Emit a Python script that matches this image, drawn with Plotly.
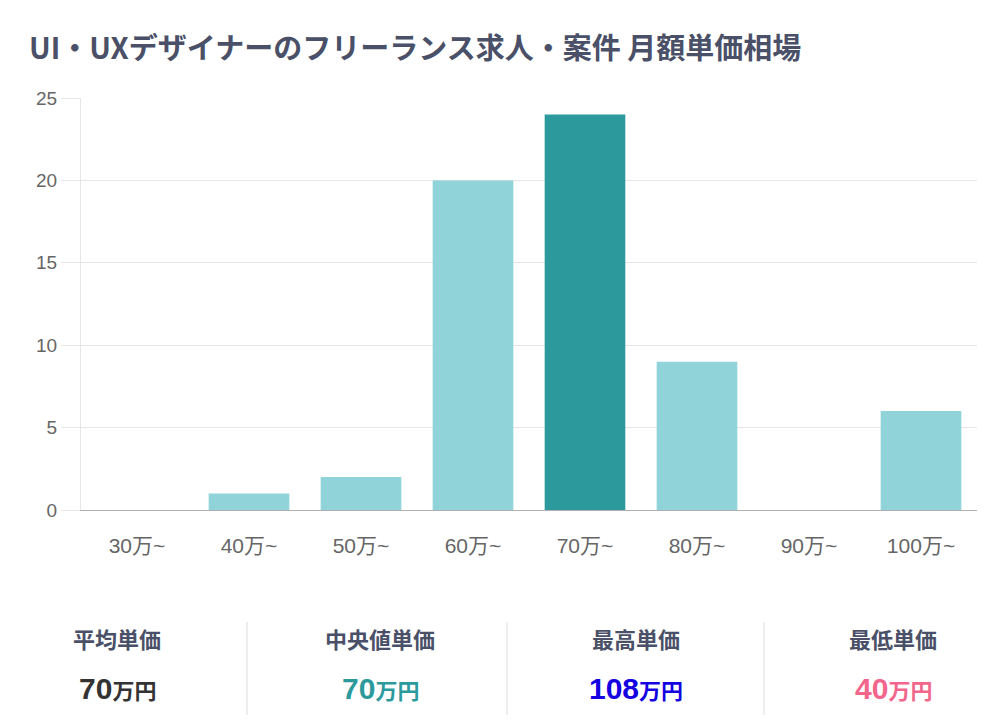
import plotly.graph_objects as go

categories = ["30万~", "40万~", "50万~", "60万~", "70万~", "80万~", "90万~", "100万~"]
counts = [0, 1, 2, 20, 24, 9, 0, 6]

stat_labels = ["平均単価", "中央値単価", "最高単価", "最低単価"]
stat_values = ["70", "70", "108", "40"]
stat_colors = ["#333333", "#2c9a9c", "#1400e0", "#f2668b"]

title = "UI・UXデザイナーのフリーランス求人・案件 月額単価相場"

# the page body has an 8px margin, so the figure is 16px smaller than the window
OFF = 8
W, H = 1008 - 2 * OFF, 728 - 2 * OFF
LIGHT, DARK = "#90d4d9", "#2c9a9c"
peak = max(counts)
bar_colors = [DARK if v == peak else LIGHT for v in counts]


def px(x):
    return (x - OFF) / W


def py(y):
    return 1 - (y - OFF) / H


fig = go.Figure(go.Bar(x=categories, y=counts, marker=dict(color=bar_colors, line=dict(width=0)),
                       hoverinfo="x+y"))

cjk = "Noto Sans CJK JP, Liberation Sans, sans-serif"
num_font = "Liberation Sans, Arial, sans-serif"

fig.update_layout(
    width=W, height=H,
    autosize=False,
    margin=dict(l=0, r=0, t=0, b=0, pad=0),
    paper_bgcolor="white", plot_bgcolor="white",
    bargap=0.28,
    showlegend=False,
    font=dict(family=cjk, color="#666666", size=16),
    xaxis=dict(domain=[px(81), px(977)], showgrid=False, showline=True, linecolor="#b0b0b0", linewidth=1,
               ticks="", ticklabelstandoff=17, automargin=False,
               tickfont=dict(size=21, color="#666666", family="Liberation Sans, Noto Sans CJK JP, sans-serif"),
               fixedrange=True),
    yaxis=dict(domain=[py(510), py(98)], range=[0, 25], dtick=5, showgrid=True, gridcolor="#e6e6e6",
               gridwidth=1, zeroline=True, zerolinecolor="#b0b0b0", zerolinewidth=1, automargin=False,
               showline=True, linecolor="#e6e6e6", ticks="outside", ticklen=19, tickcolor="#e6e6e6",
               tickfont=dict(size=19, color="#666666", family="Liberation Sans, sans-serif"),
               fixedrange=True),
)

annotations = [dict(text=f"<b>{title}</b>", x=px(27), y=py(46), xref="paper", yref="paper",
                    xanchor="left", yanchor="middle", showarrow=False,
                    font=dict(size=29, color="#4a5068", family=cjk))]

centers = [117, 380, 636, 893]
for cx, lab, val, col in zip(centers, stat_labels, stat_values, stat_colors):
    annotations.append(dict(text=f"<b>{lab}</b>", x=px(cx), y=py(638), xref="paper", yref="paper",
                            xanchor="center", yanchor="middle", showarrow=False,
                            font=dict(size=22, color="#4a5068", family=cjk)))
    annotations.append(dict(text=f"<b>{val}</b><b><span style='font-size:22px;font-family:Noto Sans CJK JP'>万円</span></b>",
                            x=px(cx), y=py(688), xref="paper", yref="paper",
                            xanchor="center", yanchor="middle", showarrow=False,
                            font=dict(size=30, color=col, family=num_font)))
fig.update_layout(annotations=annotations)

shapes = []
for dx in [247, 507, 764]:
    shapes.append(dict(type="line", xref="paper", yref="paper", x0=px(dx), x1=px(dx),
                       y0=py(622), y1=py(715), line=dict(color="#dddddd", width=1)))
fig.update_layout(shapes=shapes)

fig.write_html("out.html")
